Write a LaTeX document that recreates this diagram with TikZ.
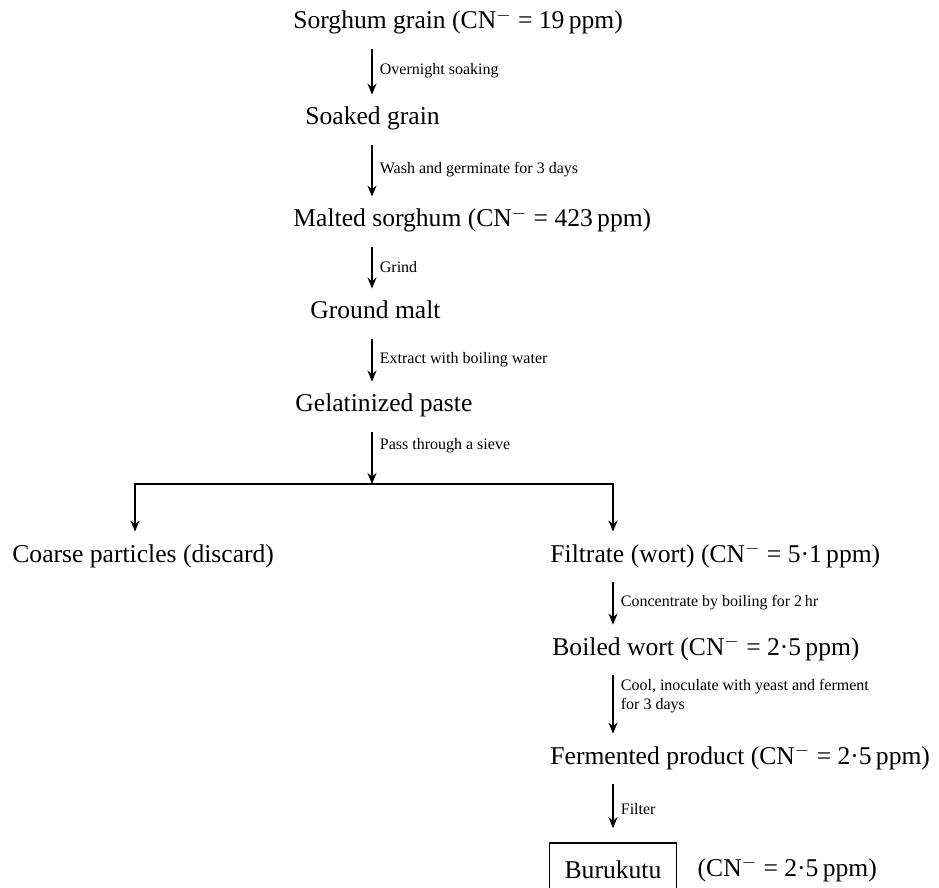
\documentclass[tikz,border=0pt]{standalone}
\usepackage{fontspec}
\setmainfont{Liberation Serif}
\usetikzlibrary{arrows.meta, positioning}
\newcommand{\cnlevel}[1]{(CN\textsuperscript{$-$}~=~#1\,ppm)}

\begin{document}
\begin{tikzpicture}[
    x=0.5pt, y=-0.5pt,
    stage/.style={font=\fontsize{12.8}{15}\selectfont, text height=9pt, text depth=3pt, inner xsep=0pt, inner ysep=3pt, anchor=west},
    note/.style={font=\fontsize{8}{9.5}\selectfont, align=left, inner sep=2pt, right, xshift=1.5pt},
    flow/.style={line width=0.9pt, -{Stealth[length=5.5pt, width=4.5pt]}},
    link/.style={flow, shorten <=4pt, shorten >=3pt},
    product/.style={draw, line width=0.8pt, minimum width=63.5pt, minimum height=27pt, font=\fontsize{12.8}{15}\selectfont}
]
\useasboundingbox (0,0) rectangle (939,888);
\coordinate (col) at (372,0);
\coordinate (colL) at (135,0);
\coordinate (colR) at (613,0);
\coordinate (split) at (372,484);

% main column
\node[stage] (sorghum) at (293,23) {Sorghum grain \cnlevel{19}};
\node[stage] (soaked) at (305,119) {Soaked grain};
\node[stage] (malted) at (293,221) {Malted sorghum \cnlevel{423}};
\node[stage] (ground) at (310,313) {Ground malt};
\node[stage] (paste) at (295,406) {Gelatinized paste};

% two branches after the sieve
\node[stage] (coarse) at (12,556) {Coarse particles (discard)};
\node[stage] (filtrate) at (550,556) {Filtrate (wort) \cnlevel{5·1}};
\node[stage] (boiled) at (552,649) {Boiled wort \cnlevel{2·5}};
\node[stage] (fermented) at (550,758) {Fermented product \cnlevel{2·5}};
\node[product] (buru) at (613,870) {Burukutu};
\node[stage, right=10pt of buru] (burulevel) {\cnlevel{2·5}};

\draw[link] (sorghum.south -| col) -- node[note] {Overnight soaking} (soaked.north -| col);
\draw[link] (soaked.south -| col) -- node[note] {Wash and germinate for 3 days} (malted.north -| col);
\draw[link] (malted.south -| col) -- node[note] {Grind} (ground.north -| col);
\draw[link] (ground.south -| col) -- node[note] {Extract with boiling water} (paste.north -| col);
\draw[link, shorten >=0pt] (paste.south -| col) -- node[note, pos=0.35] {Pass through a sieve} (split);
\draw[link, shorten <=0pt] (split) -| (coarse.north -| colL);
\draw[link, shorten <=0pt] (split) -| (filtrate.north -| colR);
\draw[link] (filtrate.south -| colR) -- node[note] {Concentrate by boiling for 2\,hr} (boiled.north -| colR);
\draw[link] (boiled.south -| colR) -- node[note, pos=0.4] {Cool, inoculate with yeast and ferment\\for 3 days} (fermented.north -| colR);
\draw[link, shorten >=7pt] (fermented.south -| colR) -- node[note] {Filter} (buru);
\end{tikzpicture}
\end{document}
